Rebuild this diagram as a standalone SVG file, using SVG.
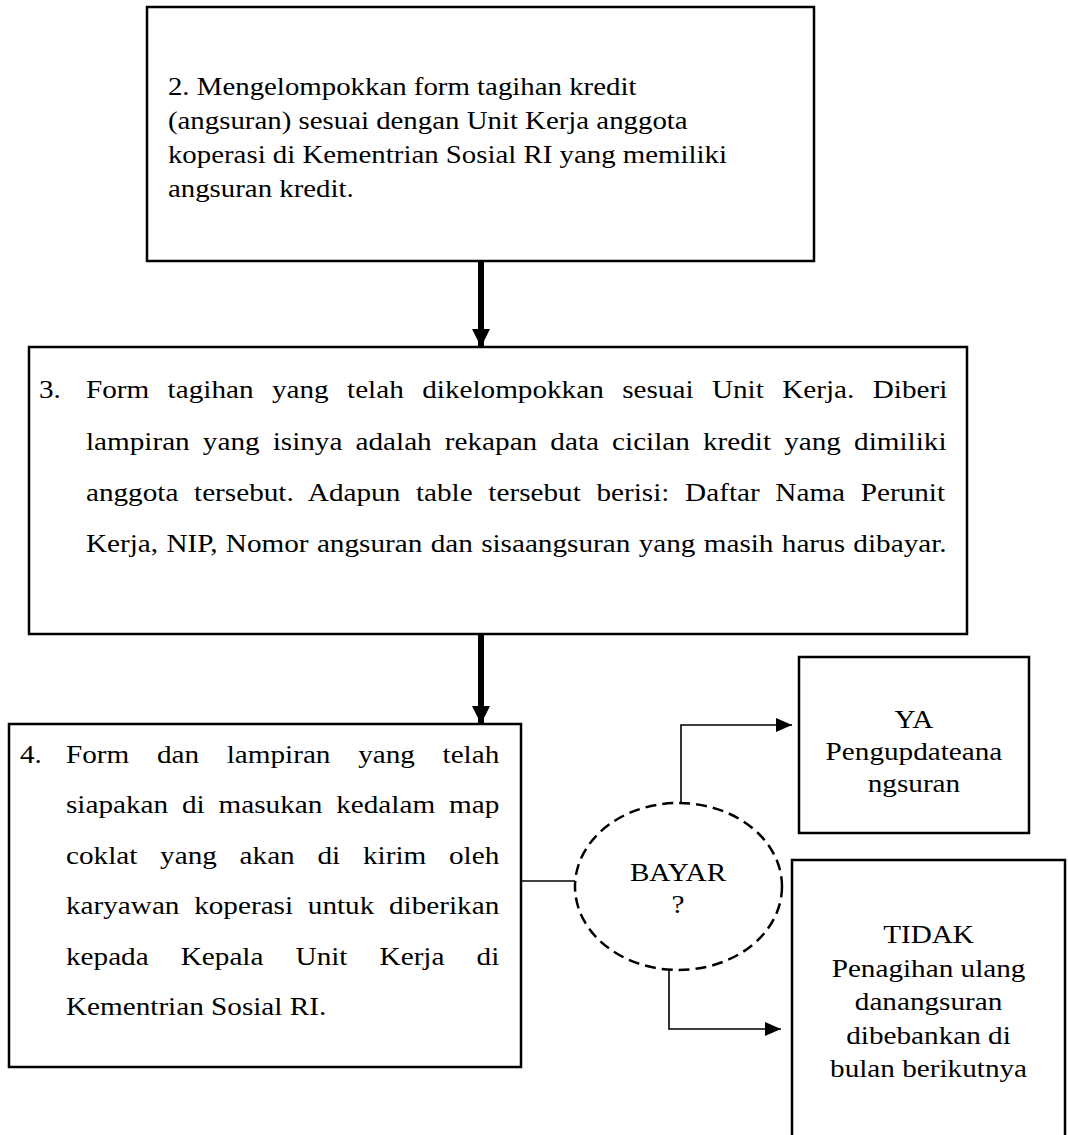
<svg xmlns="http://www.w3.org/2000/svg" width="1068" height="1135" viewBox="0 0 1068 1135">
<defs>
<style>
.box{fill:#fff;stroke:#000;stroke-width:2.5}
.t{font-family:"Liberation Serif","Times New Roman",serif;font-size:25px;fill:#000}
.c{text-anchor:middle}
.thick{stroke:#000;stroke-width:6;fill:none}
.thin{stroke:#000;stroke-width:1.6;fill:none}
.dash{fill:#fff;stroke:#000;stroke-width:2.5;stroke-dasharray:11 6}
</style>
<marker id="big" viewBox="0 0 18 18" markerUnits="userSpaceOnUse" markerWidth="18" markerHeight="18" refX="18" refY="9" orient="auto">
<path d="M0,0 L18,9 L0,18 Z" fill="#000"/>
</marker>
<marker id="small" viewBox="0 0 16 14" markerUnits="userSpaceOnUse" markerWidth="16" markerHeight="14" refX="16" refY="7" orient="auto">
<path d="M0,0 L16,7 L0,14 Z" fill="#000"/>
</marker>
</defs>
<rect width="1068" height="1135" fill="#fff"/>

<g id="connectors">
<line class="thick" x1="481" y1="261" x2="481" y2="347" marker-end="url(#big)"/>
<line class="thick" x1="481" y1="634" x2="481" y2="724" marker-end="url(#big)"/>
<line class="thin" x1="522" y1="881" x2="575" y2="881"/>
<polyline class="thin" points="681,803 681,725 792,725" marker-end="url(#small)"/>
<polyline class="thin" points="669,970 669,1029 781,1029" marker-end="url(#small)"/>
</g>

<g id="node2">
<rect class="box" x="147" y="7" width="667" height="254"/>
<g transform="scale(1.168 1)">
<text class="t" style="font-size:24.7px" x="143.8" y="95">2. Mengelompokkan form tagihan kredit</text>
<text class="t" style="font-size:24.7px" x="143.8" y="129">(angsuran) sesuai dengan Unit Kerja anggota</text>
<text class="t" style="font-size:24.7px" x="143.8" y="163">koperasi di Kementrian Sosial RI yang memiliki</text>
<text class="t" style="font-size:24.7px" x="143.8" y="197">angsuran kredit.</text>
</g>
</g>

<g id="node3">
<rect class="box" x="29" y="347" width="938" height="287"/>
<g transform="scale(1.168 1)">
<text class="t" x="33.4" y="398">3.</text>
<text class="t" x="73.6" y="398" style="word-spacing:9.5px">Form tagihan yang telah dikelompokkan sesuai Unit Kerja. Diberi</text>
<text class="t" x="73.6" y="449.5" style="word-spacing:4.99px">lampiran yang isinya adalah rekapan data cicilan kredit yang dimiliki</text>
<text class="t" x="73.6" y="501" style="word-spacing:7.19px">anggota tersebut. Adapun table tersebut berisi: Daftar Nama Perunit</text>
<text class="t" x="73.6" y="552" style="word-spacing:0.9px">Kerja, NIP, Nomor angsuran dan sisaangsuran yang masih harus dibayar.</text>
</g>
</g>

<g id="node4">
<rect class="box" x="9" y="724" width="512" height="343"/>
<g transform="scale(1.168 1)">
<text class="t" x="17.1" y="763">4.</text>
<text class="t" x="56.5" y="763" style="word-spacing:17.44px">Form dan lampiran yang telah</text>
<text class="t" x="56.5" y="813.5" style="word-spacing:5.64px">siapakan di masukan kedalam map</text>
<text class="t" x="56.5" y="864" style="word-spacing:13.26px">coklat yang akan di kirim oleh</text>
<text class="t" x="56.5" y="914.5" style="word-spacing:6.37px">karyawan koperasi untuk diberikan</text>
<text class="t" x="56.5" y="965" style="word-spacing:21.27px">kepada Kepala Unit Kerja di</text>
<text class="t" x="56.5" y="1015">Kementrian Sosial RI.</text>
</g>
</g>

<g id="decision">
<ellipse class="dash" cx="678.5" cy="886.5" rx="103.5" ry="83.5"/>
<g transform="scale(1.168 1)">
<text class="t c" x="580.5" y="881">BAYAR</text>
<text class="t c" x="580.5" y="913">?</text>
</g>
</g>

<g id="node-ya">
<rect class="box" x="799" y="657" width="230" height="176"/>
<g transform="scale(1.168 1)">
<text class="t c" x="782.5" y="728">YA</text>
<text class="t c" x="782.5" y="760">Pengupdateana</text>
<text class="t c" x="782.5" y="792">ngsuran</text>
</g>
</g>

<g id="node-tidak">
<rect class="box" x="792" y="860" width="273" height="290"/>
<g transform="scale(1.168 1)">
<text class="t c" x="795" y="943">TIDAK</text>
<text class="t c" x="795" y="977">Penagihan ulang</text>
<text class="t c" x="795" y="1010">danangsuran</text>
<text class="t c" x="795" y="1044">dibebankan di</text>
<text class="t c" x="795" y="1077">bulan berikutnya</text>
</g>
</g>
</svg>
